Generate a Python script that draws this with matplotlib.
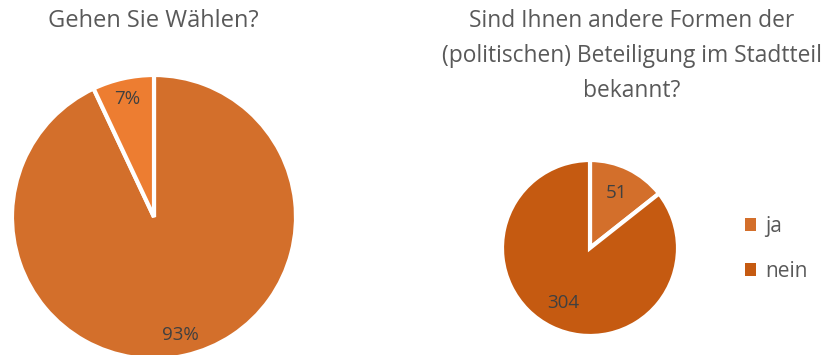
import matplotlib
matplotlib.use('Agg')
import matplotlib.pyplot as plt

# survey answers
wahl_labels = ['ja', 'nein']
wahl_pct = [93, 7]
beteiligung_labels = ['ja', 'nein']
beteiligung_counts = [51, 304]

title_left = 'Gehen Sie Wählen?'
title_right = 'Sind Ihnen andere Formen der\n(politischen) Beteiligung im Stadtteil\nbekannt?'

plt.rcParams['font.family'] = ['Open Sans', 'DejaVu Sans']
grey = '#595959'
label_grey = '#404040'

W, H = 838, 355
fig = plt.figure(figsize=(W / 100, H / 100), dpi=100)
# one axes in pixel units over the whole figure, y pointing up
ax = fig.add_axes([0, 0, 1, 1])
ax.set_xlim(0, W)
ax.set_ylim(0, H)
ax.set_aspect('equal')
ax.axis('off')

# left pie
wedges1, _, auto1 = ax.pie(wahl_pct, colors=['#D36F2B', '#ED7D31'], startangle=90,
                           counterclock=False, center=(154, H - 217), radius=142,
                           autopct='%.0f%%', pctdistance=0.85,
                           wedgeprops=dict(edgecolor='white', linewidth=3),
                           textprops=dict(color=label_grey, fontsize=13.5),
                           frame=True)

# right pie, absolute counts as labels
total = sum(beteiligung_counts)
wedges2, _, auto2 = ax.pie(beteiligung_counts, colors=['#D36F2B', '#C55A11'], startangle=90,
                           counterclock=False, center=(590, H - 248), radius=88,
                           autopct=lambda p: '%d' % round(p * total / 100.0), pctdistance=0.7,
                           wedgeprops=dict(edgecolor='white', linewidth=3),
                           textprops=dict(color=label_grey, fontsize=13.5),
                           frame=True)
ax.set_xlim(0, W)
ax.set_ylim(0, H)
ax.axis('off')

ax.text(153, H - 21, title_left, ha='center', va='center', fontsize=17, color=grey)
ax.text(632, H - 56, title_right, ha='center', va='center', fontsize=16.4, color=grey,
        linespacing=1.6)

leg = ax.legend(wedges2, beteiligung_labels, loc='center left',
                bbox_to_anchor=(726 / W, (H - 249) / H), frameon=False,
                handlelength=0.55, handleheight=0.55, handletextpad=0.45,
                labelspacing=1.15, fontsize=15, labelcolor=grey)
for h in leg.legend_handles:
    h.set_edgecolor('none')

fig.savefig('out.png', dpi=100)
